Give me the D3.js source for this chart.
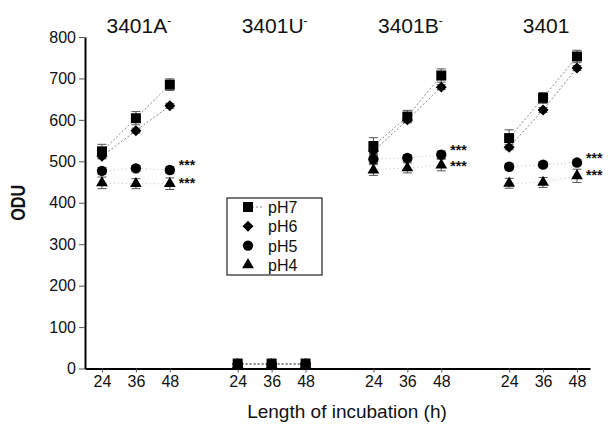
<!DOCTYPE html>
<html>
<head>
<meta charset="utf-8">
<script src="https://cdn.jsdelivr.net/npm/d3@7"></script>
<style>
  body { margin: 0; background: #fff; }
  text { font-family: "Liberation Sans", Arial, sans-serif; fill: #111; }
  .axis text { font-size: 16px; }
  .axis .tick line { stroke: #555; }
  .axis path.domain { stroke: #000; stroke-width: 2px; }
</style>
</head>
<body>
<div id="chart"></div>
<script>

// strains (a trailing "-" is drawn as a superscript minus)
var strains = ["3401A-", "3401U-", "3401B-", "3401"];
var hours = [24, 36, 48];
var phLevels = ["pH7", "pH6", "pH5", "pH4"];
var yTicks = [0, 100, 200, 300, 400, 500, 600, 700, 800];

// ODU per strain (rows) and incubation time (cols)
var pH7 = [[524, 604, 685], [12, 12, 12], [537, 608, 707], [556, 653, 753]];
var pH6 = [[512, 574, 634], [10, 10, 10], [524, 600, 679], [534, 624, 725]];
var pH5 = [[477, 483, 479], [11, 11, 11], [505, 508, 516], [487, 492, 497]];
var pH4 = [[448, 446, 446], [9, 9, 9], [479, 484, 491], [447, 449, 465]];

// error bar half widths
var pH7Err = [[17, 16, 14], [4, 4, 4], [20, 15, 16], [20, 13, 15]];
var pH6Err = [[6, 6, 6], [3, 3, 3], [6, 6, 6], [6, 6, 6]];
var pH5Err = [[8, 7, 8], [3, 3, 3], [10, 8, 9], [8, 7, 7]];
var pH4Err = [[14, 12, 14], [3, 3, 3], [13, 12, 14], [12, 12, 16]];

// strains marked "***" at 48 h for pH5 and pH4
var starred = [true, false, true, true];


OduChart = function(_parentElement){
    this.parentElement = _parentElement;
    this.initVis();
}

OduChart.prototype.initVis = function(){
    var vis = this;

    vis.margin = {top: 37, right: 18, bottom: 55.5, left: 85};
    vis.width = 608 - vis.margin.left - vis.margin.right;
    vis.height = 424 - vis.margin.top - vis.margin.bottom;

    vis.svg = d3.select("#" + vis.parentElement).append("svg")
        .attr("width", 608)
        .attr("height", 424)
      .append("g")
        .attr("transform", "translate(" + vis.margin.left + "," + vis.margin.top + ")");

    // each strain block spans 48 h of axis
    vis.span = 48;
    vis.x = d3.scaleLinear().domain([18, 196.6]).range([0, vis.width]);
    vis.y = d3.scaleLinear().domain([0, 800]).range([vis.height, 0]);

    vis.series = [
        {name: "pH7", values: pH7, errors: pH7Err, symbol: d3.symbolSquare, size: 100, rotate: 0,
         line: "#888", dash: "2,2"},
        {name: "pH6", values: pH6, errors: pH6Err, symbol: d3.symbolSquare, size: 60, rotate: 45,
         line: "#888", dash: "2,2"},
        {name: "pH5", values: pH5, errors: pH5Err, symbol: d3.symbolCircle, size: 85, rotate: 0,
         line: "#bbb", dash: "1,3"},
        {name: "pH4", values: pH4, errors: pH4Err, symbol: d3.symbolTriangle, size: 60, rotate: 0,
         line: "#bbb", dash: "1,3"}
    ];

    vis.points = [];
    vis.series.forEach(function(s){
        strains.forEach(function(st, g){
            hours.forEach(function(h, i){
                vis.points.push({series: s, g: g, h: h, pos: h + g * vis.span,
                    value: s.values[g][i], err: s.errors[g][i]});
            });
        });
    });

    // axes
    var xTicks = [];
    strains.forEach(function(st, g){ hours.forEach(function(h){ xTicks.push(h + g * vis.span); }); });

    vis.xAxis = d3.axisBottom(vis.x)
        .tickValues(xTicks)
        .tickFormat(function(d, i){ return hours[i % hours.length]; })
        .tickSize(4).tickPadding(3).tickSizeOuter(0);

    vis.yAxis = d3.axisLeft(vis.y)
        .tickValues(yTicks)
        .tickSize(6).tickPadding(3).tickSizeOuter(0);

    vis.svg.append("g")
        .attr("class", "x-axis axis")
        .attr("transform", "translate(0," + vis.height + ")")
        .call(vis.xAxis)
      .selectAll("text")
        .attr("fill", "#111");

    vis.svg.append("g")
        .attr("class", "y-axis axis")
        .call(vis.yAxis)
      .selectAll("text")
        .attr("fill", "#111");

    // connecting lines per strain
    var line = d3.line()
        .x(function(d){ return vis.x(d.pos); })
        .y(function(d){ return vis.y(d.value); });

    vis.series.slice().reverse().forEach(function(s){
        strains.forEach(function(st, g){
            var pts = vis.points.filter(function(p){ return p.series === s && p.g === g; });
            vis.svg.append("path")
                .datum(pts)
                .attr("fill", "none")
                .attr("stroke", s.line)
                .attr("stroke-width", 1)
                .attr("stroke-dasharray", s.dash)
                .attr("d", line);
        });
    });

    // error bars
    var bars = vis.svg.append("g").selectAll("g")
        .data(vis.points)
      .enter().append("g")
        .attr("stroke", "#555")
        .attr("stroke-width", 1);

    bars.append("line")
        .attr("x1", function(d){ return vis.x(d.pos); })
        .attr("x2", function(d){ return vis.x(d.pos); })
        .attr("y1", function(d){ return vis.y(d.value - d.err); })
        .attr("y2", function(d){ return vis.y(d.value + d.err); });

    [1, -1].forEach(function(sign){
        bars.append("line")
            .attr("x1", function(d){ return vis.x(d.pos) - 4.5; })
            .attr("x2", function(d){ return vis.x(d.pos) + 4.5; })
            .attr("y1", function(d){ return vis.y(d.value + sign * d.err); })
            .attr("y2", function(d){ return vis.y(d.value + sign * d.err); });
    });

    // markers, pH4 first so pH7 ends on top
    vis.svg.append("g").selectAll("path")
        .data(vis.points.slice().reverse())
      .enter().append("path")
        .attr("fill", "#000")
        .attr("d", function(d){ return d3.symbol().type(d.series.symbol).size(d.series.size)(); })
        .attr("transform", function(d){
            return "translate(" + vis.x(d.pos) + "," + vis.y(d.value) + ") rotate(" + d.series.rotate + ")";
        });

    // significance marks: pH5 row beside its point, pH4 row kept at least 16px below it
    var starG = vis.svg.append("g");
    strains.forEach(function(st, g){
        if (!starred[g]) return;
        var xs = vis.x(48 + g * vis.span) + 9;
        var y5 = vis.y(pH5[g][2]);
        var y4 = Math.max(vis.y(pH4[g][2]) + 4, y5 + 16);
        [y5, y4].forEach(function(yy){
            starG.append("text")
                .attr("x", xs)
                .attr("y", yy)
                .attr("font-size", "14px")
                .attr("font-weight", "bold")
                .text("***");
        });
    });

    // strain titles
    var titles = vis.svg.append("g").selectAll("text")
        .data(strains)
      .enter().append("text")
        .attr("x", function(d, g){ return vis.x(36 + g * vis.span) + 3; })
        .attr("y", 33 - vis.margin.top)
        .attr("text-anchor", "middle")
        .attr("font-size", "21px");
    titles.append("tspan").text(function(d){ return d.replace(/-$/, ""); });
    titles.filter(function(d){ return /-$/.test(d); })
        .append("tspan")
        .attr("font-size", "12px")
        .attr("dy", -8)
        .text("-");

    // axis titles
    vis.svg.append("text")
        .attr("transform", "translate(" + (25 - vis.margin.left) + "," + (vis.height / 2) + ") rotate(-90)")
        .attr("text-anchor", "middle")
        .attr("font-size", "20px")
        .attr("font-weight", "bold")
        .attr("textLength", 36)
        .attr("lengthAdjust", "spacingAndGlyphs")
        .text("ODU");

    vis.svg.append("text")
        .attr("x", 347 - vis.margin.left)
        .attr("y", 418 - vis.margin.top)
        .attr("text-anchor", "middle")
        .attr("font-size", "19px")
        .text("Length of incubation (h)");

    // legend
    var lg = vis.svg.append("g")
        .attr("transform", "translate(" + (227 - vis.margin.left) + "," + (198 - vis.margin.top) + ")");
    lg.append("rect")
        .attr("width", 95).attr("height", 77)
        .attr("fill", "#fff")
        .attr("stroke", "#222")
        .attr("stroke-width", 1.2);
    lg.append("line")
        .attr("x1", 21).attr("x2", 37)
        .attr("y1", 9).attr("y2", 9)
        .attr("stroke", "#888").attr("stroke-dasharray", "2,2");
    var items = lg.selectAll("g.item")
        .data(vis.series)
      .enter().append("g")
        .attr("class", "item")
        .attr("transform", function(d, i){ return "translate(0," + (9 + i * 19.3) + ")"; });
    items.append("path")
        .attr("fill", "#000")
        .attr("d", function(d){ return d3.symbol().type(d.symbol).size(d.size)(); })
        .attr("transform", function(d){ return "translate(21,0) rotate(" + d.rotate + ")"; });
    items.append("text")
        .attr("x", 41)
        .attr("y", 6)
        .attr("font-size", "16px")
        .text(function(d){ return d.name; });
}

var chart = new OduChart("chart");
</script>
</body>
</html>
